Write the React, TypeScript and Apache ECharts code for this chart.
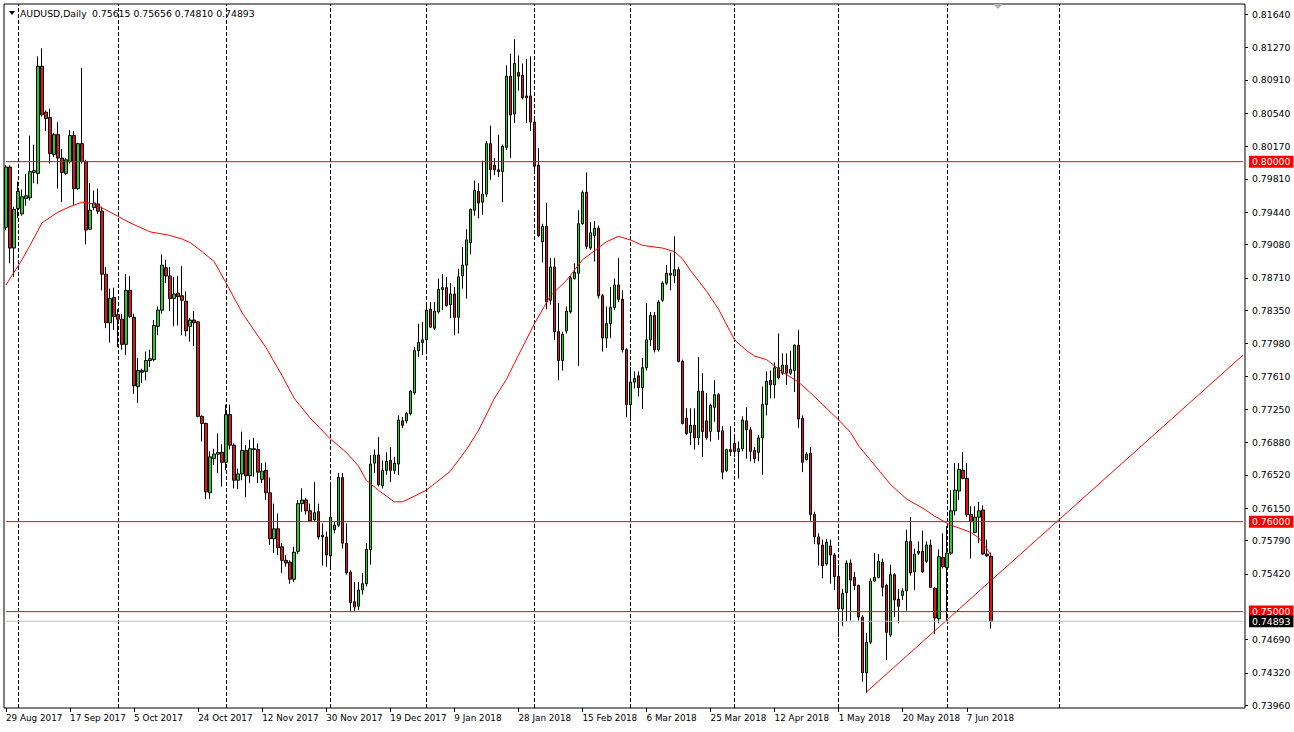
import React, { useEffect, useRef } from 'react';
import * as echarts from 'echarts';

// ---- Daily candles (AUDUSD) ----
const OPEN = [
  0.7927,0.7994,0.7904,0.7948,0.7942,0.7959,0.7960,0.7988,0.7987,0.8106,
  0.8055,0.8049,0.8008,0.8030,0.8004,0.7987,0.8000,0.8029,0.7970,0.8020,
  0.8000,0.7925,0.7949,0.7953,0.7945,0.7875,0.7821,0.7849,0.7830,0.7825,
  0.7797,0.7857,0.7827,0.7750,0.7768,0.7767,0.7779,0.7780,0.7817,0.7835,
  0.7882,0.7873,0.7848,0.7854,0.7851,0.7845,0.7817,0.7824,0.7822,0.7717,
  0.7709,0.7632,0.7670,0.7675,0.7677,0.7666,0.7719,0.7685,0.7646,0.7653,
  0.7679,0.7651,0.7681,0.7680,0.7647,0.7657,0.7632,0.7581,0.7592,0.7572,
  0.7557,0.7555,0.7536,0.7567,0.7620,0.7624,0.7612,0.7602,0.7611,0.7585,
  0.7583,0.7562,0.7591,0.7596,0.7649,0.7576,0.7544,0.7511,0.7506,0.7524,
  0.7531,0.7569,0.7665,0.7674,0.7640,0.7657,0.7668,0.7657,0.7664,0.7712,
  0.7712,0.7720,0.7743,0.7790,0.7799,0.7802,0.7836,0.7815,0.7833,0.7858,
  0.7860,0.7841,0.7853,0.7827,0.7873,0.7885,0.7910,0.7946,0.7967,0.7955,
  0.7964,0.8020,0.7996,0.7991,0.7989,0.8016,0.8095,0.8053,0.8099,0.8096,
  0.8073,0.8073,0.8044,0.7996,0.7911,0.7928,0.7846,0.7883,0.7811,0.7779,
  0.7812,0.7833,0.7870,0.7876,0.7931,0.7966,0.7904,0.7918,0.7926,0.7851,
  0.7804,0.7820,0.7838,0.7863,0.7847,0.7791,0.7730,0.7755,0.7762,0.7749,
  0.7771,0.7802,0.7829,0.7791,0.7846,0.7865,0.7876,0.7873,0.7880,0.7778,
  0.7715,0.7699,0.7707,0.7693,0.7745,0.7712,0.7700,0.7727,0.7741,0.7701,
  0.7657,0.7680,0.7687,0.7678,0.7681,0.7712,0.7702,0.7679,0.7677,0.7693,
  0.7730,0.7757,0.7752,0.7771,0.7765,0.7774,0.7765,0.7768,0.7796,0.7715,
  0.7669,0.7676,0.7608,0.7583,0.7574,0.7553,0.7573,0.7563,0.7539,0.7503,
  0.7521,0.7554,0.7538,0.7529,0.7494,0.7432,0.7466,0.7534,0.7538,0.7555,
  0.7529,0.7474,0.7541,0.7514,0.7518,0.7523,0.7578,0.7544,0.7565,0.7567,
  0.7556,0.7574,0.7526,0.7492,0.7560,0.7549,0.7565,0.7612,0.7634,0.7657,
  0.7648,0.7608,0.7588,0.7605,0.7613,0.7564,0.75615,
];
const HIGH = [
  0.7996,0.7996,0.7950,0.7978,0.7969,0.7986,0.8029,0.8019,0.8117,0.8126,
  0.8057,0.8059,0.8032,0.8044,0.8014,0.8004,0.8035,0.8034,0.8021,0.8104,
  0.8002,0.7976,0.7968,0.7970,0.7950,0.7883,0.7859,0.7860,0.7836,0.7831,
  0.7875,0.7873,0.7831,0.7782,0.7770,0.7789,0.7791,0.7824,0.7839,0.7897,
  0.7891,0.7883,0.7872,0.7873,0.7884,0.7856,0.7826,0.7834,0.7823,0.7718,
  0.7710,0.7678,0.7681,0.7698,0.7686,0.7730,0.7730,0.7687,0.7659,0.7700,
  0.7685,0.7691,0.7693,0.7687,0.7665,0.7666,0.7649,0.7620,0.7609,0.7576,
  0.7563,0.7557,0.7572,0.7624,0.7637,0.7626,0.7620,0.7644,0.7620,0.7598,
  0.7589,0.7644,0.7600,0.7654,0.7654,0.7598,0.7546,0.7533,0.7533,0.7543,
  0.7576,0.7674,0.7680,0.7694,0.7668,0.7677,0.7683,0.7672,0.7718,0.7716,
  0.7722,0.7746,0.7794,0.7820,0.7822,0.7841,0.7844,0.7844,0.7870,0.7875,
  0.7872,0.7865,0.7861,0.7881,0.7905,0.7925,0.7948,0.7979,0.7976,0.8001,
  0.8023,0.8040,0.8004,0.8030,0.8019,0.8107,0.8120,0.8136,0.8118,0.8109,
  0.8114,0.8117,0.8048,0.8015,0.7931,0.7954,0.7893,0.7893,0.7843,0.7811,
  0.7839,0.7873,0.7887,0.7946,0.7968,0.7988,0.7933,0.7934,0.7929,0.7853,
  0.7839,0.7861,0.7870,0.7893,0.7857,0.7793,0.7772,0.7767,0.7767,0.7782,
  0.7843,0.7833,0.7833,0.7846,0.7867,0.7885,0.7899,0.7917,0.7883,0.7780,
  0.7726,0.7726,0.7726,0.7783,0.7765,0.7743,0.7731,0.7757,0.7743,0.7706,
  0.7681,0.7706,0.7694,0.7689,0.7717,0.7727,0.7705,0.7683,0.7696,0.7750,
  0.7767,0.7768,0.7777,0.7809,0.7787,0.7787,0.7790,0.7797,0.7813,0.7718,
  0.7677,0.7683,0.7611,0.7587,0.7580,0.7581,0.7580,0.7565,0.7552,0.7525,
  0.7557,0.7558,0.7544,0.7530,0.7496,0.7476,0.7537,0.7565,0.7564,0.7559,
  0.7531,0.7552,0.7543,0.7525,0.7526,0.7591,0.7605,0.7570,0.7578,0.7590,
  0.7578,0.7580,0.7527,0.7569,0.7587,0.7595,0.7635,0.7665,0.7665,0.7677,
  0.7665,0.7617,0.7617,0.7622,0.7618,0.7580,0.75656,
];
const LOW = [
  0.7924,0.7887,0.7872,0.7937,0.7940,0.7951,0.7957,0.7976,0.7975,0.8050,
  0.8034,0.7998,0.8005,0.7970,0.7955,0.7985,0.7998,0.7952,0.7969,0.7998,
  0.7908,0.7924,0.7946,0.7942,0.7857,0.7815,0.7799,0.7813,0.7794,0.7791,
  0.7785,0.7826,0.7742,0.7732,0.7754,0.7757,0.7772,0.7778,0.7807,0.7831,
  0.7865,0.7834,0.7817,0.7818,0.7807,0.7806,0.7800,0.7795,0.7716,0.7689,
  0.7625,0.7625,0.7663,0.7654,0.7639,0.7657,0.7680,0.7637,0.7636,0.7646,
  0.7627,0.7643,0.7650,0.7643,0.7643,0.7624,0.7574,0.7565,0.7563,0.7543,
  0.7550,0.7531,0.7533,0.7564,0.7611,0.7608,0.7600,0.7600,0.7580,0.7551,
  0.7550,0.7550,0.7587,0.7594,0.7570,0.7541,0.7500,0.7500,0.7502,0.7519,
  0.7528,0.7552,0.7654,0.7639,0.7637,0.7652,0.7644,0.7653,0.7652,0.7704,
  0.7709,0.7718,0.7741,0.7783,0.7785,0.7786,0.7815,0.7813,0.7831,0.7835,
  0.7839,0.7826,0.7807,0.7809,0.7859,0.7848,0.7897,0.7940,0.7937,0.7941,
  0.7961,0.7980,0.7985,0.7983,0.7955,0.8013,0.8004,0.8043,0.8079,0.8069,
  0.8043,0.8034,0.7987,0.7916,0.7888,0.7836,0.7841,0.7802,0.7757,0.7768,
  0.7809,0.7831,0.7869,0.7773,0.7930,0.7903,0.7902,0.7889,0.7848,0.7789,
  0.7793,0.7804,0.7835,0.7844,0.7788,0.7716,0.7712,0.7748,0.7739,0.7725,
  0.7768,0.7795,0.7788,0.7789,0.7844,0.7863,0.7857,0.7865,0.7777,0.7708,
  0.7696,0.7685,0.7680,0.7685,0.7672,0.7691,0.7689,0.7711,0.7691,0.7647,
  0.7655,0.7673,0.7672,0.7648,0.7678,0.7670,0.7667,0.7665,0.7667,0.7652,
  0.7718,0.7737,0.7737,0.7758,0.7763,0.7752,0.7763,0.7744,0.7704,0.7655,
  0.7668,0.7601,0.7575,0.7551,0.7537,0.7551,0.7531,0.7524,0.7472,0.7484,
  0.7489,0.7490,0.7524,0.7490,0.7422,0.7410,0.7464,0.7533,0.7537,0.7517,
  0.7446,0.7472,0.7494,0.7487,0.7513,0.7501,0.7540,0.7524,0.7563,0.7543,
  0.7554,0.7526,0.7475,0.7487,0.7548,0.7490,0.7563,0.7607,0.7624,0.7647,
  0.7605,0.7559,0.7587,0.7576,0.7563,0.7561,0.74810,
];
const CLOSE = [
  0.7994,0.7904,0.7947,0.7967,0.7961,0.7962,0.7989,0.7990,0.8106,0.8052,
  0.8048,0.8009,0.8030,0.8004,0.7988,0.8002,0.8029,0.7970,0.8020,0.8000,
  0.7924,0.7946,0.7954,0.7945,0.7875,0.7821,0.7848,0.7828,0.7825,0.7797,
  0.7857,0.7828,0.7751,0.7768,0.7766,0.7779,0.7781,0.7818,0.7835,0.7885,
  0.7873,0.7848,0.7853,0.7850,0.7846,0.7812,0.7824,0.7821,0.7717,0.7709,
  0.7633,0.7672,0.7675,0.7677,0.7666,0.7719,0.7685,0.7646,0.7653,0.7679,
  0.7651,0.7681,0.7680,0.7655,0.7656,0.7632,0.7581,0.7592,0.7571,0.7557,
  0.7554,0.7536,0.7566,0.7620,0.7624,0.7612,0.7601,0.7610,0.7583,0.7583,
  0.7563,0.7605,0.7596,0.7649,0.7576,0.7543,0.7510,0.7505,0.7524,0.7531,
  0.7569,0.7664,0.7674,0.7641,0.7657,0.7667,0.7657,0.7665,0.7713,0.7707,
  0.7720,0.7745,0.7790,0.7799,0.7802,0.7835,0.7816,0.7834,0.7858,0.7860,
  0.7840,0.7853,0.7827,0.7872,0.7885,0.7913,0.7947,0.7968,0.7954,0.7964,
  0.8020,0.7991,0.7991,0.7989,0.8017,0.8095,0.8052,0.8109,0.8095,0.8071,
  0.8071,0.8044,0.7995,0.7918,0.7928,0.7844,0.7883,0.7811,0.7779,0.7808,
  0.7834,0.7871,0.7877,0.7931,0.7966,0.7906,0.7921,0.7926,0.7851,0.7804,
  0.7820,0.7838,0.7863,0.7847,0.7791,0.7730,0.7755,0.7759,0.7749,0.7771,
  0.7802,0.7829,0.7791,0.7844,0.7865,0.7876,0.7874,0.7880,0.7778,0.7709,
  0.7698,0.7707,0.7693,0.7745,0.7700,0.7693,0.7729,0.7741,0.7700,0.7655,
  0.7680,0.7678,0.7678,0.7681,0.7713,0.7702,0.7678,0.7670,0.7693,0.7730,
  0.7756,0.7752,0.7771,0.7760,0.7774,0.7765,0.7769,0.7796,0.7714,0.7666,
  0.7675,0.7608,0.7583,0.7575,0.7551,0.7577,0.7563,0.7539,0.7503,0.7520,
  0.7554,0.7535,0.7529,0.7494,0.7432,0.7466,0.7534,0.7538,0.7556,0.7527,
  0.7477,0.7541,0.7513,0.7506,0.7523,0.7578,0.7543,0.7564,0.7567,0.7544,
  0.7574,0.7527,0.7493,0.7561,0.7550,0.7565,0.7612,0.7635,0.7658,0.7648,
  0.7608,0.7600,0.7605,0.7612,0.7564,0.7562,0.74893,
];

// ---- Moving average (red curve), read at sampled bars ----
const MA_INDEX = [0,4,6,9,13,16,19,22,26,31,36,41,44,46,49,52,55,59,65,69,72,76,81,85,88,90,93,97,99,101,105,107,111,115,118,122,125,127,132,136,140,144,150,153,156,159,164,167,169,171,175,178,182,185,187,190,194,198,201,204,208,211,213,216,221,225,229,232,236,238,241,243,245,246];
const MA_VALUE = [0.7863,0.7891,0.7907,0.7932,0.7944,0.7950,0.7955,0.7953,0.7944,0.7932,0.7922,0.7918,0.7914,0.7910,0.7900,0.7889,0.7865,0.7832,0.7793,0.7762,0.7737,0.7715,0.7692,0.7677,0.7662,0.7646,0.7635,0.7622,0.7622,0.7626,0.7635,0.7642,0.7656,0.7680,0.7701,0.7737,0.7758,0.7776,0.7820,0.7851,0.7868,0.7891,0.7911,0.7917,0.7913,0.7907,0.7904,0.7900,0.7892,0.7879,0.7856,0.7836,0.7802,0.7790,0.7784,0.7780,0.7766,0.7755,0.7743,0.7730,0.7713,0.7699,0.7684,0.7668,0.7641,0.7625,0.7615,0.7606,0.7596,0.7593,0.7588,0.7582,0.7570,0.7563];

// ---- Trend line (two anchor points) ----
const TREND_INDEX = [215, 309];
const TREND_VALUE = [0.7411, 0.7785];

// ---- Horizontal levels ----
const LEVELS = [0.8, 0.76, 0.75];
const BID = 0.74893;

// ---- Axis ticks / labels ----
const PRICE_TICKS = [0.8164,0.8127,0.8091,0.8054,0.8017,0.7981,0.7944,0.7908,0.7871,0.7835,0.7798,0.7761,0.7725,0.7688,0.7652,0.7615,0.7579,0.7542,0.7469,0.7432,0.7396];
const SEPARATORS = ['2017-09-01','2017-10-01','2017-11-01','2017-12-01','2018-01-01','2018-02-01','2018-03-01','2018-04-01','2018-05-01','2018-06-01','2018-07-01'];
const FIRST_BAR = '2017-08-29';
const DAYS_WITHOUT_BAR = ['2017-12-24', '2017-12-31'];
const FUTURE_DAYS = 63;
const LABEL_EVERY = 16;
const MONTHS = ['Jan','Feb','Mar','Apr','May','Jun','Jul','Aug','Sep','Oct','Nov','Dec'];
const Y_MIN = 0.73929;
const Y_MAX = 0.81752;
const HEADER_NAME = 'AUDUSD,Daily';
const HEADER_VALUES = '0.75615 0.75656 0.74810 0.74893';

const FONT = 'DejaVu Sans';
const FS = 9.3;
const FS_DATE = 8.8;
const UP = '#1ED21E';
const DOWN = '#E41414';
const LEVEL_RED = '#FF0000';
const BID_GRAY = '#C0C0C0';

function buildDates(n: number): string[] {
  const out: string[] = [];
  const d = new Date(FIRST_BAR + 'T00:00:00Z');
  while (out.length < n) {
    const iso = d.toISOString().slice(0, 10);
    if (d.getUTCDay() !== 6 && !DAYS_WITHOUT_BAR.includes(iso)) out.push(iso);
    d.setUTCDate(d.getUTCDate() + 1);
  }
  for (let k = 0; k < FUTURE_DAYS; k++) {
    out.push(d.toISOString().slice(0, 10));
    d.setUTCDate(d.getUTCDate() + 1);
  }
  return out;
}

function fmtDate(iso: string): string {
  const [y, m, d] = iso.split('-');
  return `${parseInt(d, 10)} ${MONTHS[parseInt(m, 10) - 1]} ${y}`;
}

export default function App() {
  const ref = useRef<HTMLDivElement>(null);

  useEffect(() => {
    if (!ref.current) return;
    const chart = echarts.init(ref.current, null, { renderer: 'svg' });
    const N_BARS = OPEN.length;
    const DATES = buildDates(N_BARS);
    const LAST = DATES.length - 1;
    const sparse = (idx: number[], val: number[]) => {
      const a: (number | null)[] = DATES.map(() => null);
      idx.forEach((k, j) => { a[k] = val[j]; });
      return a;
    };
    const showLabel = (i: number) => i % LABEL_EVERY === 0 && i < N_BARS;
    const candles = OPEN.map((o, i) => [o, CLOSE[i], LOW[i], HIGH[i]]);

    // horizontal level drawn as a line series spanning the whole category range
    const levelSeries = (value: number, lineColor: string, boxColor: string) => ({
      type: 'line',
      data: sparse([0, LAST], [value, value]),
      connectNulls: true,
      showSymbol: false,
      symbol: 'none',
      silent: true,
      clip: false,
      z: 6,
      lineStyle: { color: lineColor, width: 1, type: 'solid' },
      emphasis: { disabled: true },
      endLabel: {
        show: true,
        distance: 6,
        formatter: () => value.toFixed(5),
        color: '#fff',
        backgroundColor: boxColor,
        padding: [1, 3, 0, 3],
        lineHeight: 11,
        fontSize: FS,
        fontFamily: FONT,
      },
    });

    chart.setOption({
      animation: false,
      backgroundColor: '#fff',
      grid: {
        left: 4, right: 49, top: 4, bottom: 24,
        show: true, borderColor: '#000', borderWidth: 1, backgroundColor: '#fff',
      },
      xAxis: {
        type: 'category',
        data: DATES,
        boundaryGap: true,
        axisLine: { show: false },
        axisTick: {
          show: true, interval: (i: number) => showLabel(i), alignWithLabel: true,
          length: 4, lineStyle: { color: '#000' },
        },
        axisLabel: {
          interval: (i: number) => showLabel(i),
          formatter: (v: string) => fmtDate(v),
          align: 'left', margin: 5, color: '#000', fontSize: FS_DATE, fontFamily: FONT,
        },
        splitLine: { show: false },
      },
      yAxis: {
        type: 'value',
        position: 'right',
        min: Y_MIN,
        max: Y_MAX,
        axisLine: { show: false },
        axisTick: { show: true, customValues: PRICE_TICKS, length: 3, lineStyle: { color: '#000' } },
        axisLabel: {
          customValues: PRICE_TICKS,
          formatter: (v: number) => v.toFixed(5),
          margin: 7, color: '#000', fontSize: FS, fontFamily: FONT,
        },
        splitLine: { show: false },
      },
      series: [
        {
          type: 'candlestick',
          data: candles,
          barWidth: 3,
          z: 3,
          itemStyle: {
            color: UP, color0: DOWN,
            borderColor: '#000', borderColor0: '#000', borderColorDoji: '#000',
            borderWidth: 1,
          },
          markLine: {
            silent: true,
            z: 1,
            symbol: ['none', 'none'],
            label: { show: false },
            lineStyle: { color: '#000', width: 1, type: [4, 2] },
            data: SEPARATORS.map((d) => ({ xAxis: DATES.indexOf(d) })),
          },
        },
        {
          type: 'line',
          data: sparse(MA_INDEX, MA_VALUE),
          connectNulls: true,
          showSymbol: false,
          symbol: 'none',
          z: 4,
          lineStyle: { color: '#FF0000', width: 1 },
        },
        {
          type: 'line',
          data: sparse(TREND_INDEX, TREND_VALUE),
          connectNulls: true,
          showSymbol: false,
          symbol: 'none',
          z: 4,
          lineStyle: { color: '#FF0000', width: 1 },
        },
        ...LEVELS.map((v) => levelSeries(v, LEVEL_RED, LEVEL_RED)),
        levelSeries(BID, BID_GRAY, '#000000'),
      ],
      graphic: [
        { type: 'polygon', shape: { points: [[9, 11], [15, 11], [12, 15]] }, style: { fill: '#000' }, z: 10 },
        { type: 'polygon', shape: { points: [[993, 4], [1003, 4], [998, 9]] }, style: { fill: '#B0B0B0' }, z: 10 },
        {
          type: 'text', x: 20, y: 13, z: 10,
          style: { text: HEADER_NAME, fill: '#000', font: `${FS}px "${FONT}"`, verticalAlign: 'middle' },
        },
        {
          type: 'text', x: 92, y: 13, z: 10,
          style: { text: HEADER_VALUES, fill: '#000', font: `${FS}px "${FONT}"`, verticalAlign: 'middle' },
        },
      ],
    });
    return () => chart.dispose();
  }, []);

  return (
    <div
      ref={ref}
      style={{ position: 'fixed', left: 0, top: 0, width: 1294, height: 732, background: '#fff' }}
    />
  );
}
